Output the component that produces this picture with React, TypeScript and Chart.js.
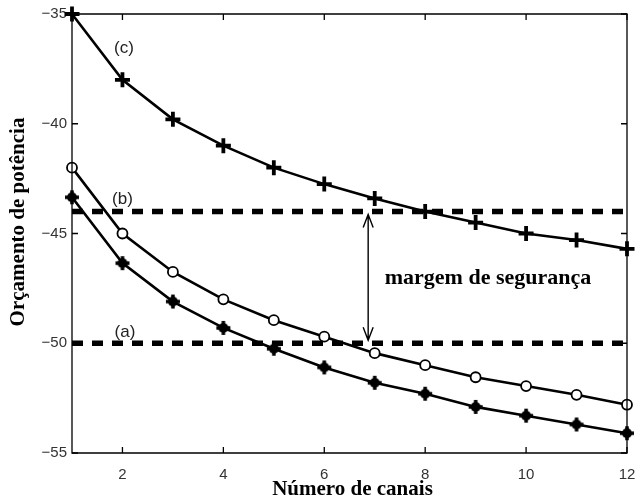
import React, { useEffect, useRef } from "react";
import { Chart, registerables } from "chart.js";

Chart.register(...registerables);

const xValues = [1, 2, 3, 4, 5, 6, 7, 8, 9, 10, 11, 12];
const seriesC = [-35, -38, -39.8, -41, -42, -42.75, -43.4, -44, -44.5, -45, -45.3, -45.7];
const seriesB = [-42, -45, -46.75, -48, -48.95, -49.7, -50.45, -51, -51.55, -51.95, -52.35, -52.8];
const seriesA = [-43.35, -46.35, -48.1, -49.3, -50.25, -51.1, -51.8, -52.3, -52.9, -53.3, -53.7, -54.1];
const thresholdB = -44;
const thresholdA = -50;
const arrowX = 6.87;
const xTickValues = [2, 4, 6, 8, 10, 12];
const yTickValues = [-55, -50, -45, -40, -35];
const curveLabels = [
  { text: "(c)", x: 2.03, y: -36.55 },
  { text: "(b)", x: 2.0, y: -43.45 },
  { text: "(a)", x: 2.05, y: -49.5 },
];
const marginLabel = "margem de segurança";
const xTitle = "Número de canais";
const yTitle = "Orçamento de potência";

function makeFilledMarker(): HTMLCanvasElement {
  const c = document.createElement("canvas");
  c.width = 16;
  c.height = 16;
  const g = c.getContext("2d")!;
  g.fillStyle = "#000";
  g.beginPath();
  g.arc(8, 8, 5, 0, Math.PI * 2);
  g.fill();
  g.strokeStyle = "#000";
  g.lineWidth = 3.5;
  g.beginPath();
  g.moveTo(8, 1);
  g.lineTo(8, 15);
  g.moveTo(1, 8);
  g.lineTo(15, 8);
  g.stroke();
  return c;
}

export default function App() {
  const ref = useRef<HTMLCanvasElement | null>(null);

  useEffect(() => {
    document.body.style.margin = "0";
    const canvas = ref.current!;
    const filled = makeFilledMarker();

    const decor = {
      id: "decor",
      afterDraw(chart: any) {
        const ctx = chart.ctx as CanvasRenderingContext2D;
        const xs = chart.scales.x;
        const ys = chart.scales.y;
        const left = xs.getPixelForValue(1);
        const right = xs.getPixelForValue(12);
        const top = ys.getPixelForValue(-35);
        const bottom = ys.getPixelForValue(-55);
        ctx.save();
        ctx.setLineDash([]);
        ctx.globalAlpha = 1;
        // box
        ctx.strokeStyle = "#000";
        ctx.lineWidth = 1.3;
        ctx.beginPath();
        ctx.moveTo(left, top);
        ctx.lineTo(right, top);
        ctx.lineTo(right, bottom);
        ctx.lineTo(left, bottom);
        ctx.closePath();
        ctx.stroke();
        // inner ticks
        ctx.beginPath();
        xTickValues.forEach((v) => {
          const px = xs.getPixelForValue(v);
          ctx.moveTo(px, bottom);
          ctx.lineTo(px, bottom - 6);
          ctx.moveTo(px, top);
          ctx.lineTo(px, top + 6);
        });
        yTickValues.forEach((v) => {
          const py = ys.getPixelForValue(v);
          ctx.moveTo(left, py);
          ctx.lineTo(left + 6, py);
          ctx.moveTo(right, py);
          ctx.lineTo(right - 6, py);
        });
        ctx.stroke();

        // double arrow
        const ax = xs.getPixelForValue(arrowX);
        const ay1 = ys.getPixelForValue(thresholdB) + 3;
        const ay2 = ys.getPixelForValue(thresholdA) - 3;
        ctx.lineWidth = 1.4;
        ctx.beginPath();
        ctx.moveTo(ax, ay1);
        ctx.lineTo(ax, ay2);
        ctx.moveTo(ax - 5, ay1 + 13);
        ctx.lineTo(ax, ay1);
        ctx.lineTo(ax + 5, ay1 + 13);
        ctx.moveTo(ax - 5, ay2 - 13);
        ctx.lineTo(ax, ay2);
        ctx.lineTo(ax + 5, ay2 - 13);
        ctx.stroke();

        // curve labels
        ctx.fillStyle = "#222";
        ctx.font = '17px "Liberation Sans", Arial, sans-serif';
        ctx.textAlign = "center";
        ctx.textBaseline = "middle";
        curveLabels.forEach((l) => {
          ctx.fillText(l.text, xs.getPixelForValue(l.x), ys.getPixelForValue(l.y));
        });

        // margin label
        ctx.fillStyle = "#000";
        ctx.font = 'bold 22px "Liberation Serif", "Times New Roman", serif';
        ctx.fillText(marginLabel, 488, 278);

        // x title
        ctx.font = 'bold 21px "Liberation Serif", "Times New Roman", serif';
        ctx.fillText(xTitle, (left + right) / 2 + 3, 490);

        // y title
        ctx.save();
        ctx.translate(19, 222);
        ctx.rotate(-Math.PI / 2);
        ctx.fillText(yTitle, 0, 0);
        ctx.restore();

        ctx.restore();
      },
    };

    const pts = (ys: number[]) => xValues.map((x, i) => ({ x, y: ys[i] }));

    const chart = new Chart(canvas, {
      type: "line",
      data: {
        datasets: [
          {
            data: [
              { x: 1, y: thresholdB },
              { x: 12, y: thresholdB },
            ],
            borderColor: "#000",
            borderWidth: 5.5,
            borderDash: [11, 9],
            borderCapStyle: "butt",
            pointRadius: 0,
          },
          {
            data: [
              { x: 1, y: thresholdA },
              { x: 12, y: thresholdA },
            ],
            borderColor: "#000",
            borderWidth: 5.5,
            borderDash: [11, 9],
            borderCapStyle: "butt",
            pointRadius: 0,
          },
          {
            data: pts(seriesC),
            borderColor: "#000",
            borderWidth: 2.6,
            pointStyle: "cross",
            pointRadius: 7.5,
            pointBorderWidth: 3.8,
            pointBorderColor: "#000",
          },
          {
            data: pts(seriesB),
            borderColor: "#000",
            borderWidth: 2.6,
            pointStyle: "circle",
            pointRadius: 5,
            pointBorderWidth: 1.8,
            pointBorderColor: "#000",
            pointBackgroundColor: "#fff",
          },
          {
            data: pts(seriesA),
            borderColor: "#000",
            borderWidth: 2.6,
            pointStyle: filled as any,
            pointRadius: 7,
          },
        ],
      },
      options: {
        animation: false,
        responsive: false,
        events: [],
        clip: false as any,
        layout: { padding: { top: 14, right: 12, left: 0, bottom: 0 } },
        plugins: { legend: { display: false }, tooltip: { enabled: false } },
        scales: {
          x: {
            type: "linear",
            min: 1,
            max: 12,
            grid: { display: false, drawTicks: false },
            border: { display: false },
            afterFit: (s: any) => {
              s.height = 44;
              s.paddingLeft = 0;
              s.paddingRight = 0;
            },
            afterBuildTicks: (s: any) => {
              s.ticks = xTickValues.map((v) => ({ value: v }));
            },
            ticks: {
              padding: 13,
              color: "#333",
              font: { family: '"Liberation Sans", Arial, sans-serif', size: 15 },
              maxRotation: 0,
              callback: (v: any) => String(v),
            },
          },
          y: {
            type: "linear",
            min: -55,
            max: -35,
            grid: { display: false, drawTicks: false },
            border: { display: false },
            afterFit: (s: any) => {
              s.width = 72;
              s.paddingTop = 0;
              s.paddingBottom = 0;
            },
            afterBuildTicks: (s: any) => {
              s.ticks = yTickValues.map((v) => ({ value: v }));
            },
            ticks: {
              padding: 5,
              color: "#333",
              font: { family: '"Liberation Sans", Arial, sans-serif', size: 15 },
              callback: (v: any) => String(v).replace("-", "\u2212"),
            },
          },
        },
      },
      plugins: [decor],
    });
    return () => chart.destroy();
  }, []);

  return (
    <div style={{ width: 639, height: 497, background: "#fff" }}>
      <canvas ref={ref} width={639} height={497} style={{ display: "block" }} />
    </div>
  );
}
